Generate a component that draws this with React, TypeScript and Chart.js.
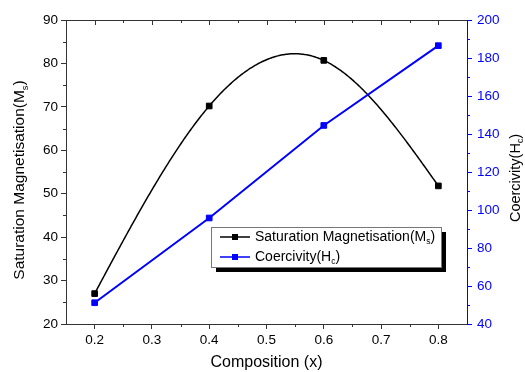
import React, { useEffect, useRef } from "react";
import { Chart, registerables } from "chart.js";

Chart.register(...registerables);

const compositions = [0.2, 0.4, 0.6, 0.8];
const magnetisation = [27.0, 70.2, 80.7, 51.8];
const coercivity = [51.2, 95.8, 144.5, 186.5];
const xTicks = [0.2, 0.3, 0.4, 0.5, 0.6, 0.7, 0.8];
const xMinorTicks = [0.25, 0.35, 0.45, 0.55, 0.65, 0.75];
const leftMinorTicks = [25, 35, 45, 55, 65, 75, 85];
const rightMinorTicks = [50, 70, 90, 110, 130, 150, 170, 190];

const FONT = '"Liberation Sans", Arial, sans-serif';
const BLUE = "#0000ff";
const AXIS = "#333333";

type Part = { t: string; sub?: boolean };

// natural cubic spline second derivatives
function splineSecondDerivs(xs: number[], ys: number[]): number[] {
  const n = xs.length;
  const M = new Array(n).fill(0);
  if (n < 3) return M;
  const a: number[] = [], b: number[] = [], c: number[] = [], d: number[] = [];
  for (let i = 1; i < n - 1; i++) {
    const h0 = xs[i] - xs[i - 1];
    const h1 = xs[i + 1] - xs[i];
    a.push(h0);
    b.push(2 * (h0 + h1));
    c.push(h1);
    d.push(6 * ((ys[i + 1] - ys[i]) / h1 - (ys[i] - ys[i - 1]) / h0));
  }
  const m = b.length;
  for (let i = 1; i < m; i++) {
    const w = a[i] / b[i - 1];
    b[i] -= w * c[i - 1];
    d[i] -= w * d[i - 1];
  }
  const sol = new Array(m).fill(0);
  sol[m - 1] = d[m - 1] / b[m - 1];
  for (let i = m - 2; i >= 0; i--) sol[i] = (d[i] - c[i] * sol[i + 1]) / b[i];
  for (let i = 0; i < m; i++) M[i + 1] = sol[i];
  return M;
}

function splineAt(xs: number[], ys: number[], M: number[], x: number): number {
  let i = 0;
  while (i < xs.length - 2 && x > xs[i + 1]) i++;
  const h = xs[i + 1] - xs[i];
  const A = xs[i + 1] - x;
  const B = x - xs[i];
  return (
    (M[i] * A * A * A) / (6 * h) +
    (M[i + 1] * B * B * B) / (6 * h) +
    (ys[i] / h - (M[i] * h) / 6) * A +
    (ys[i + 1] / h - (M[i + 1] * h) / 6) * B
  );
}

function drawRich(ctx: CanvasRenderingContext2D, parts: Part[], x: number, y: number, size: number, align: "center" | "left", color: string) {
  const subSize = size * 0.6;
  const widths = parts.map((p) => {
    ctx.font = `${p.sub ? subSize : size}px ${FONT}`;
    return ctx.measureText(p.t).width;
  });
  const total = widths.reduce((a, b) => a + b, 0);
  let cx = align === "center" ? x - total / 2 : x;
  ctx.textBaseline = "middle";
  ctx.textAlign = "left";
  ctx.fillStyle = color;
  parts.forEach((p, i) => {
    ctx.font = `${p.sub ? subSize : size}px ${FONT}`;
    ctx.fillText(p.t, cx, y + (p.sub ? size * 0.32 : 0));
    cx += widths[i];
  });
}

const splinePlugin = {
  id: "splineLine",
  beforeDatasetsDraw(chart: any) {
    const ctx: CanvasRenderingContext2D = chart.ctx;
    const xs = chart.scales.x;
    const ys = chart.scales.y;
    const { left, right, top, bottom } = chart.chartArea;
    const M = splineSecondDerivs(compositions, magnetisation);
    const x0 = compositions[0];
    const x1 = compositions[compositions.length - 1];
    const steps = 300;
    ctx.save();
    ctx.beginPath();
    ctx.rect(left, top, right - left, bottom - top);
    ctx.clip();
    ctx.strokeStyle = "#000";
    ctx.lineWidth = 1.5;
    ctx.lineJoin = "round";
    ctx.beginPath();
    for (let k = 0; k <= steps; k++) {
      const xv = x0 + ((x1 - x0) * k) / steps;
      const yv = splineAt(compositions, magnetisation, M, xv);
      const px = xs.getPixelForValue(xv);
      const py = ys.getPixelForValue(yv);
      if (k === 0) ctx.moveTo(px, py);
      else ctx.lineTo(px, py);
    }
    ctx.stroke();
    ctx.restore();
  },
};

const decorPlugin = {
  id: "decor",
  afterDraw(chart: any) {
    const ctx: CanvasRenderingContext2D = chart.ctx;
    const { left, right, top, bottom } = chart.chartArea;
    const xs = chart.scales.x;
    const yl = chart.scales.y;
    const yr = chart.scales.y2;
    ctx.save();
    ctx.strokeStyle = AXIS;
    ctx.lineWidth = 1;
    ctx.beginPath();
    ctx.moveTo(left, Math.round(top) + 0.5);
    ctx.lineTo(right, Math.round(top) + 0.5);
    ctx.stroke();
    ctx.beginPath();
    xTicks.forEach((v) => {
      const px = Math.round(xs.getPixelForValue(v)) + 0.5;
      ctx.moveTo(px, top);
      ctx.lineTo(px, top + 5);
    });
    xMinorTicks.forEach((v) => {
      const px = Math.round(xs.getPixelForValue(v)) + 0.5;
      ctx.moveTo(px, top);
      ctx.lineTo(px, top + 3);
    });
    xMinorTicks.forEach((v) => {
      const px = Math.round(xs.getPixelForValue(v)) + 0.5;
      ctx.moveTo(px, bottom);
      ctx.lineTo(px, bottom + 3);
    });
    leftMinorTicks.forEach((v) => {
      const py = Math.round(yl.getPixelForValue(v)) + 0.5;
      ctx.moveTo(left, py);
      ctx.lineTo(left - 3, py);
    });
    ctx.stroke();
    ctx.strokeStyle = BLUE;
    ctx.beginPath();
    rightMinorTicks.forEach((v) => {
      const py = Math.round(yr.getPixelForValue(v)) + 0.5;
      ctx.moveTo(right, py);
      ctx.lineTo(right + 3, py);
    });
    ctx.stroke();

    ctx.save();
    ctx.translate(20, (top + bottom) / 2 + 8);
    ctx.rotate(-Math.PI / 2);
    drawRich(ctx, [{ t: "Saturation Magnetisation(M" }, { t: "s", sub: true }, { t: ")" }], 0, 0, 15.5, "center", "#000");
    ctx.restore();

    ctx.save();
    ctx.translate(516, (top + bottom) / 2 + 6);
    ctx.rotate(-Math.PI / 2);
    drawRich(ctx, [{ t: "Coercivity(H" }, { t: "c", sub: true }, { t: ")" }], 0, 0, 14.5, "center", "#000");
    ctx.restore();

    drawRich(ctx, [{ t: "Composition (x)" }], (left + right) / 2, 363, 16, "center", "#000");

    const lx = 211, ly = 227, lw = 230, lh = 40;
    ctx.fillStyle = "#000";
    ctx.fillRect(lx + 5, ly + 5, lw, lh);
    ctx.fillStyle = "#fff";
    ctx.fillRect(lx, ly, lw, lh);
    ctx.strokeStyle = "#777";
    ctx.lineWidth = 1;
    ctx.strokeRect(lx + 0.5, ly + 0.5, lw, lh);

    const rows = [
      { color: "#000", parts: [{ t: "Saturation Magnetisation(M" }, { t: "s", sub: true }, { t: ")" }] as Part[] },
      { color: BLUE, parts: [{ t: "Coercivity(H" }, { t: "c", sub: true }, { t: ")" }] as Part[] },
    ];
    rows.forEach((r, i) => {
      const ry = ly + 10 + i * 20;
      ctx.strokeStyle = r.color;
      ctx.lineWidth = 1.5;
      ctx.beginPath();
      ctx.moveTo(lx + 9, ry);
      ctx.lineTo(lx + 39, ry);
      ctx.stroke();
      ctx.fillStyle = r.color;
      ctx.fillRect(lx + 21, ry - 3, 6, 6);
      drawRich(ctx, r.parts, lx + 44, ry, 14, "left", "#000");
    });
    ctx.restore();
  },
};

export default function App() {
  const ref = useRef<HTMLCanvasElement>(null);
  useEffect(() => {
    if (!ref.current) return;
    const chart = new Chart(ref.current, {
      type: "line",
      data: {
        datasets: [
          {
            label: "Saturation Magnetisation(Ms)",
            data: compositions.map((c, i) => ({ x: c, y: magnetisation[i] })),
            yAxisID: "y",
            borderColor: "#000",
            backgroundColor: "#000",
            borderWidth: 1.5,
            showLine: false,
            pointStyle: "rect",
            pointRadius: 4,
            pointBorderWidth: 1,
          },
          {
            label: "Coercivity(Hc)",
            data: compositions.map((c, i) => ({ x: c, y: coercivity[i] })),
            yAxisID: "y2",
            borderColor: BLUE,
            backgroundColor: BLUE,
            borderWidth: 2,
            pointStyle: "rect",
            pointRadius: 4,
            pointBorderWidth: 1,
            tension: 0,
          },
        ],
      },
      options: {
        animation: false,
        responsive: false,
        devicePixelRatio: 1,
        layout: { padding: { top: 20, left: 0, right: 0, bottom: 0 } },
        plugins: { legend: { display: false }, tooltip: { enabled: false } },
        scales: {
          x: {
            type: "linear",
            min: 0.15,
            max: 0.85,
            afterBuildTicks: (s: any) => {
              s.ticks = xTicks.map((v) => ({ value: v }));
            },
            afterFit: (s: any) => {
              s.height = 48;
            },
            ticks: {
              color: "#000",
              font: { family: FONT, size: 13.5 },
              padding: 3,
              maxRotation: 0,
              callback: (v: any) => Number(v).toFixed(1),
            },
            grid: { display: true, drawOnChartArea: false, drawTicks: true, tickLength: 5, color: AXIS },
            border: { display: true, color: AXIS, width: 1 },
          },
          y: {
            type: "linear",
            position: "left",
            min: 20,
            max: 90,
            afterFit: (s: any) => {
              s.width = 66;
            },
            ticks: { stepSize: 10, color: "#000", font: { family: FONT, size: 13.5 }, padding: 3 },
            grid: { display: true, drawOnChartArea: false, drawTicks: true, tickLength: 5, color: AXIS },
            border: { display: true, color: AXIS, width: 1 },
          },
          y2: {
            type: "linear",
            position: "right",
            min: 40,
            max: 200,
            afterFit: (s: any) => {
              s.width = 58;
            },
            ticks: { stepSize: 20, color: BLUE, font: { family: FONT, size: 13.5 }, padding: 5 },
            grid: { display: true, drawOnChartArea: false, drawTicks: true, tickLength: 5, color: BLUE },
            border: { display: true, color: BLUE, width: 1 },
          },
        },
      },
      plugins: [splinePlugin, decorPlugin],
    } as any);
    return () => chart.destroy();
  }, []);
  return (
    <div style={{ position: "absolute", left: 0, top: 0, width: 525, height: 372, background: "#fff" }}>
      <canvas ref={ref} width={525} height={372} />
    </div>
  );
}
